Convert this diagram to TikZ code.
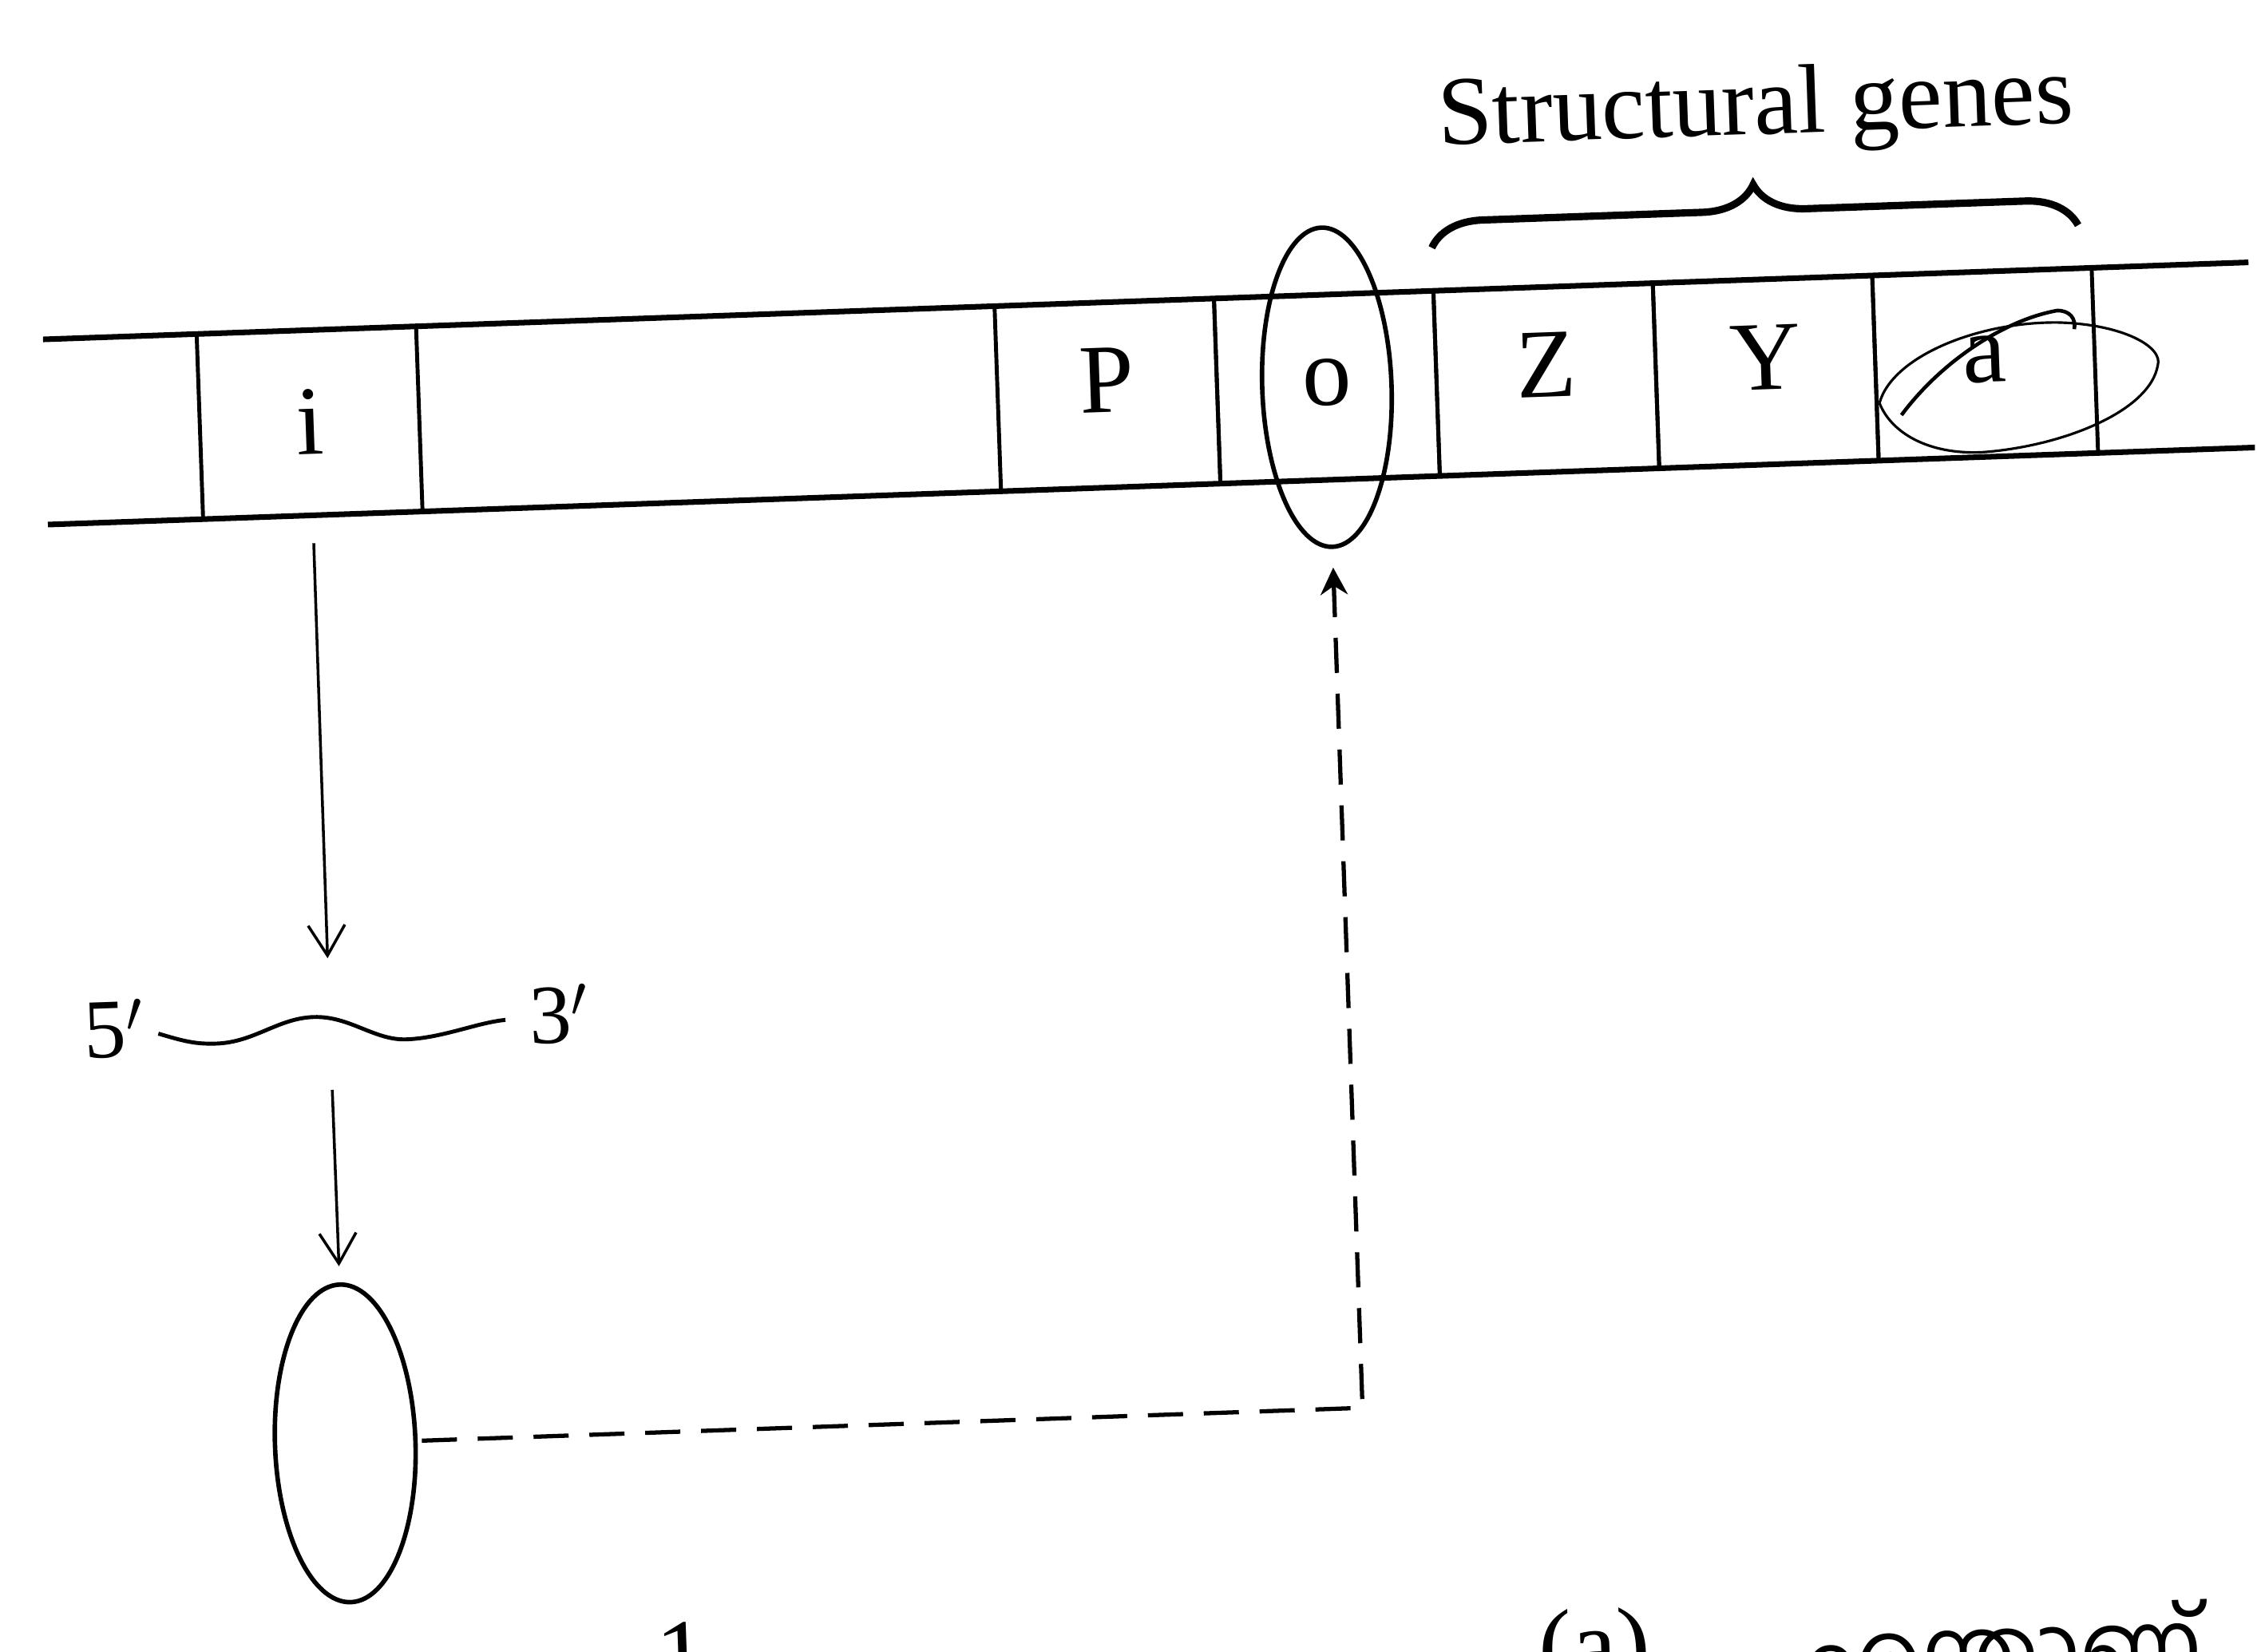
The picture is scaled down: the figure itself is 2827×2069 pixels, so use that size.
\documentclass[tikz,border=0pt]{standalone}
\usepackage{fontspec}
\setmainfont{Liberation Serif}
\newfontfamily\malfont[Script=Malayalam]{Hind Kochi}
\usetikzlibrary{arrows.meta, positioning, shapes.geometric, decorations.pathreplacing}

\begin{document}
\begin{tikzpicture}[
  x=0.1mm, y=-0.1mm,
  node distance=0pt,
  every node/.style={inner sep=0pt, outer sep=0pt, font=\fontsize{35}{40}\selectfont},
  cell/.style={draw, line width=1.4pt, minimum width=27.5mm, minimum height=23.2mm,
               text height=4.4mm, text depth=0pt},
  blob/.style={draw, ellipse, line width=1.6pt},
  strand/.style={line width=2pt},
  brace/.style={decorate, decoration={brace, amplitude=6.5mm, aspect=0.5}, line width=2.6pt},
  arr/.style={-{Straight Barb[length=3.8mm, width=4.6mm]}, line width=1pt},
  dasharr/.style={-{Stealth[length=3.4mm, width=3.4mm]}, line width=1.5pt, dash pattern=on 4.4mm off 2.6mm},
  pen/.style={line width=0.9pt}
]
  \useasboundingbox (0,0) rectangle (2827,2069);
  \begin{scope}[rotate around={2:(1413,1034)}, transform shape]
  \node[cell, text height=7.8mm] (i) at (406,494) {i};
  \node[cell] (P) at (1406,494) {P};
  \node[cell, right=of P] (o) {o};
  \node[cell, right=of o] (Z) {Z};
  \node[cell, right=of Z] (Y) {Y};
  \node[cell, right=of Y] (a) {a};

  \coordinate (topL) at (76,378);
  \coordinate (topR) at (2840,378);
  \coordinate (botL) at (74,610);
  \coordinate (botR) at (2840,610);
  \draw[strand] (topL) -- (topR);
  \draw[strand] (botL) -- (botR);

  \node[blob, minimum width=16.2mm, minimum height=40mm] (opbind) at (o) {};

  \draw[brace] ([yshift=5.4mm]Z.north west) -- ([yshift=5.4mm, xshift=-1.5mm]a.north east);
  \node[anchor=base] (sg) at (2230,196) {Structural genes};

  \draw[pen] (2372,538) .. controls (2390,480) and (2500,440) .. (2600,445)
    .. controls (2680,450) and (2730,480) .. (2722,503)
    .. controls (2710,560) and (2600,600) .. (2499,604)
    .. controls (2430,605) and (2385,575) .. (2372,538);
  \draw[pen, line width=1.3pt] (2399,554) .. controls (2450,490) and (2530,440) .. (2598,430)
    .. controls (2615,430) and (2622,442) .. (2619,454);

  \coordinate (m5) at (190,1252);
  \coordinate (m3) at (625,1250);
  \coordinate (mrna) at (405,1250);
  \draw[line width=1.4pt] (m5) .. controls (220,1262) and (235,1267) .. (262,1267)
    .. controls (310,1267) and (340,1238) .. (385,1238)
    .. controls (430,1238) and (460,1270) .. (500,1270)
    .. controls (545,1270) and (590,1252) .. (m3);
  \node[anchor=base east, font=\fontsize{30}{34}\selectfont] (five) at (172,1280) {5$'$};
  \node[anchor=base west, font=\fontsize{30}{34}\selectfont] (three) at (655,1281) {3$'$};

  \node[blob, minimum width=17.6mm, minimum height=39.8mm] (rep) at (406,1773) {};

  \draw[arr, shorten <=3.5mm, shorten >=8.5mm] (i.south) -- (mrna);
  \draw[arr, shorten <=8mm, shorten >=2.3mm] (mrna) -- (rep.north);
  \draw[dasharr, shorten <=0.8mm, shorten >=2.6mm] (rep.east) -| (opbind.south);

  \node[anchor=base west, font=\fontsize{36}{40}\selectfont] (qnum) at (786,2095) {1};
  \node[anchor=base west, font=\fontsize{36}{40}\selectfont] (qa) at (1891,2122) {(a)};
  \node[anchor=base west, font=\fontsize{31}{36}\selectfont\malfont] (qtext) at (2225,2142) {എന്താണ്};
  \end{scope}
\end{tikzpicture}
\end{document}
